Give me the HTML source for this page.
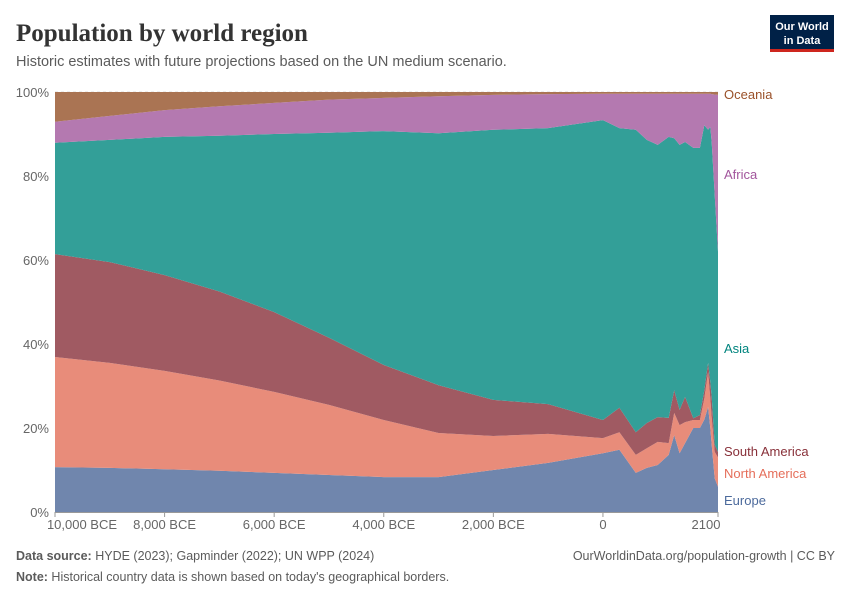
<!DOCTYPE html>
<html><head><meta charset="utf-8"><style>
body{margin:0;background:#fff;width:850px;height:600px;overflow:hidden;font-family:"Liberation Sans",sans-serif;}
</style></head><body>
<svg width="850" height="600" xmlns="http://www.w3.org/2000/svg">
<text x="16" y="41" font-family="Liberation Serif,serif" font-size="25" font-weight="bold" fill="#333">Population by world region</text>
<text x="16" y="66" font-size="14.5" fill="#5b5b5b">Historic estimates with future projections based on the UN medium scenario.</text>
<g>
<rect x="770" y="15" width="64" height="35" fill="#002147"/>
<rect x="770" y="49" width="64" height="3" fill="#ce261e"/>
<text x="802" y="30" font-size="11" font-weight="bold" fill="#fff" text-anchor="middle">Our World</text>
<text x="802" y="44" font-size="11" font-weight="bold" fill="#fff" text-anchor="middle">in Data</text>
</g>
<g id="grid"></g>
<g id="areas"></g>
<g id="axes"></g>
<g id="labels"></g>
<text x="16" y="560" font-size="12.5" fill="#5b5b5b"><tspan font-weight="bold">Data source:</tspan> HYDE (2023); Gapminder (2022); UN WPP (2024)</text>
<text x="835" y="560" font-size="12.5" fill="#5b5b5b" text-anchor="end">OurWorldinData.org/population-growth | CC BY</text>
<text x="16" y="581" font-size="12.5" fill="#5b5b5b"><tspan font-weight="bold">Note:</tspan> Historical country data is shown based on today's geographical borders.</text>
</svg>
<script>
const years=[-10000,-9000,-8000,-7000,-6000,-5000,-4000,-3000,-2000,-1000,0,300,600,800,1000,1200,1300,1400,1500,1650,1770,1850,1920,1960,1985,2040,2100];
const europe=[10.7,10.5,10.2,9.8,9.3,8.8,8.3,8.3,10.0,11.7,14.0,14.8,9.3,10.5,11.2,13.6,18.3,14.0,16.4,20.0,20.0,22.0,25.0,20.0,16.0,8.0,6.0];
const northAmerica=[26.2,25.0,23.4,21.5,19.3,16.7,13.6,10.5,8.1,6.9,3.6,4.2,4.3,4.7,5.5,2.8,5.3,6.7,5.0,1.9,1.9,5.0,8.3,7.0,6.4,6.3,7.0];
const southAmerica=[24.5,24.0,22.8,21.2,19.0,16.0,13.1,11.4,8.6,7.1,4.3,5.8,5.4,6.0,5.9,6.0,5.4,3.6,6.0,0.4,1.2,2.0,2.2,4.0,5.0,1.7,1.3];
const asia=[26.5,29.1,32.9,37.1,42.4,48.8,55.7,60.0,64.3,65.7,71.4,66.6,72.0,67.4,64.8,66.9,60.0,63.1,60.7,64.4,63.6,63.1,55.5,60.7,60.6,59.5,47.7];
const africa=[5.0,5.7,6.4,7.0,7.4,7.9,7.9,8.8,8.3,8.1,6.3,8.2,8.6,11.0,12.2,10.3,10.6,12.2,11.5,12.9,12.9,7.5,8.6,7.9,11.5,23.9,37.3];
const oceania=[7.1,5.7,4.3,3.4,2.6,1.8,1.4,1.0,0.7,0.5,0.4,0.4,0.4,0.4,0.4,0.4,0.4,0.4,0.4,0.4,0.4,0.4,0.4,0.4,0.5,0.6,0.7];
const seriesNames=["Europe","North America","South America","Asia","Africa","Oceania"];
const yTicks=[0,20,40,60,80,100];
const xTicks=[-10000,-8000,-6000,-4000,-2000,0,2100];
const xTickLabels=["10,000 BCE","8,000 BCE","6,000 BCE","4,000 BCE","2,000 BCE","0","2100"];

const NS="http://www.w3.org/2000/svg";
const X0=55,X1=718,Y0=512,Y1=92;
const xs=y=>X0+(y-years[0])/(years[years.length-1]-years[0])*(X1-X0);
const ys=v=>Y0-v/100*(Y0-Y1);
function mk(t,a,p){const e=document.createElementNS(NS,t);for(const k in a)e.setAttribute(k,a[k]);p.appendChild(e);return e;}
const series=[europe,northAmerica,southAmerica,asia,africa,oceania];
const fills=["#7086ad","#e88c7a","#a05a62","#339f98","#b479b0","#aa7453"];
const lcols=["#4c6a9c","#e56e5a","#883039","#00847e","#a2559c","#9a5129"];
const grid=document.getElementById('grid');
yTicks.forEach(t=>{
 const l=mk('line',{x1:X0,x2:X1,y1:ys(t),y2:ys(t),stroke:'#ddd','stroke-dasharray':'3,3'},grid);
 
 
});
const areas=document.getElementById('areas');
let base=years.map(()=>0);
series.forEach((s,i)=>{
 const top=base.map((b,j)=>b+s[j]);
 let d='M'+years.map((y,j)=>xs(y).toFixed(1)+','+ys(top[j]).toFixed(1)).join('L');
 for(let j=years.length-1;j>=0;j--)d+='L'+xs(years[j]).toFixed(1)+','+ys(base[j]).toFixed(1);
 const p=mk('path',{d:d+'Z',fill:fills[i]},areas);
 
 
 base=top;
});
const axes=document.getElementById('axes');
yTicks.forEach(t=>{
 const tx=mk('text',{x:X0-6,y:ys(t)+5,'font-size':13,fill:'#666','text-anchor':'end'},axes);
 tx.textContent=t+'%';
 
 
});
mk('line',{x1:X0,x2:X1,y1:Y0+0.5,y2:Y0+0.5,stroke:'#999'},axes);
xTicks.forEach((t,i)=>{
 let x=xs(t);
 mk('line',{x1:x,x2:x,y1:Y0,y2:Y0+5,stroke:'#999'},axes);
 let anchor='middle',lx=x;
 if(i==0){lx=x+27;}
 if(i==xTicks.length-1){lx=x-12;}
 const tx=mk('text',{x:lx,y:Y0+17,'font-size':13,fill:'#666','text-anchor':anchor},axes);
 tx.textContent=xTickLabels[i];
 
 
});
const labels=document.getElementById('labels');
const labelY=[500,473,451,348,174,94];
seriesNames.forEach((n,i)=>{
 const tx=mk('text',{x:724,y:labelY[i]+5,'font-size':13,fill:lcols[i]},labels);
 tx.textContent=n;
 
 
});
</script>
</body></html>
